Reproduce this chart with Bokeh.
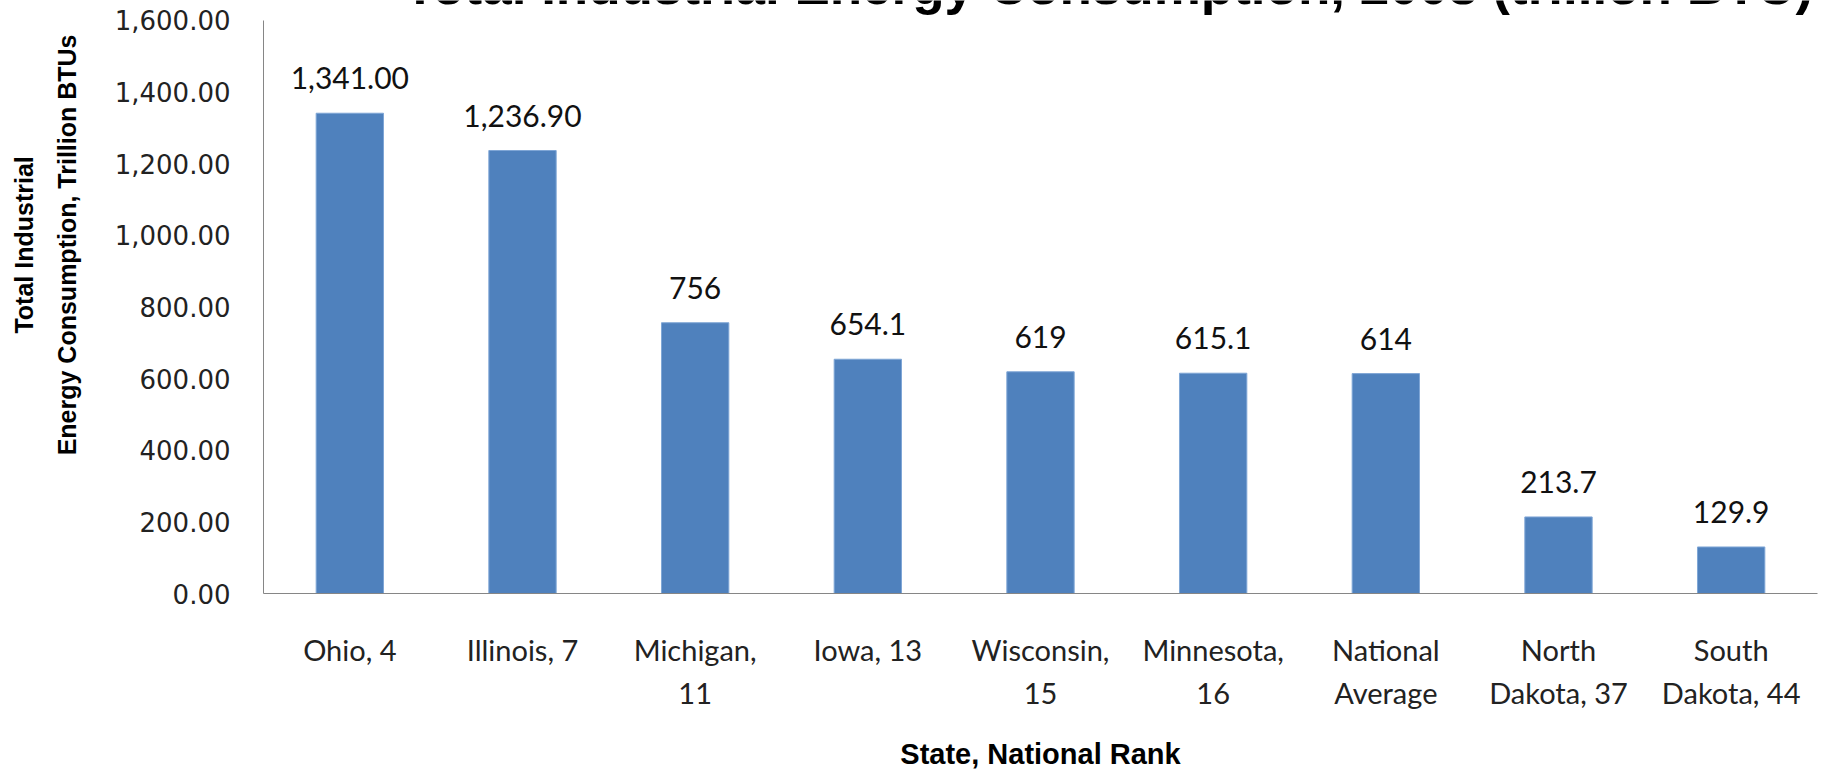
from bokeh.plotting import figure
from bokeh.models import (ColumnDataSource, NumeralTickFormatter, Range1d,
                          LinearAxis, FixedTicker)
from bokeh.core.properties import value
from bokeh.embed import file_html
from bokeh.resources import INLINE

# category label: first line / second line
category_line1 = ["Ohio, 4", "Illinois, 7", "Michigan,", "Iowa, 13", "Wisconsin,",
                  "Minnesota,", "National", "North", "South"]
category_line2 = ["", "", "11", "", "15", "16", "Average", "Dakota, 37", "Dakota, 44"]
consumption = [1341.0, 1236.9, 756.0, 654.1, 619.0, 615.1, 614.0, 213.7, 129.9]
value_labels = ["1,341.00", "1,236.90", "756", "654.1", "619", "615.1", "614", "213.7", "129.9"]
y_ticks = [0, 200, 400, 600, 800, 1000, 1200, 1400, 1600]
y_max = 1600

title_text = "Total Industrial Energy Consumption, 2008 (trillion BTU)"
y_title_1 = "Total Industrial"
y_title_2 = "Energy Consumption, Trillion BTUs"
x_title = "State, National Rank"

n = len(category_line1)
x_pos = [i + 0.5 for i in range(n)]   # category centres on a 0..n axis

W, H = 1823, 772
ML, MR, MT, MB = 263, 6, 0, 178
AXIS_TOP_PX = 20                       # the value axis stops 20px below the top edge
frame_w = W - ML - MR
frame_h = H - MT - MB
px_per_cat = frame_w / n
px_per_unit = (frame_h - AXIS_TOP_PX) / y_max
y_end = frame_h / px_per_unit          # frame reaches the top edge (title lives there)

src = ColumnDataSource(dict(x=x_pos, val=consumption, lab=value_labels))

p = figure(width=W, height=H, x_range=Range1d(0, n), y_range=Range1d(0, y_end),
           output_backend="svg", toolbar_location=None, tools="",
           x_axis_location=None, y_axis_location=None,
           min_border_left=ML, min_border_right=MR, min_border_top=MT, min_border_bottom=MB)
p.outline_line_color = None
p.background_fill_color = "white"
p.border_fill_color = "white"
p.xgrid.grid_line_color = None
p.ygrid.grid_line_color = None

p.vbar(x="x", top="val", width=0.39, source=src, fill_color="#4F81BD",
       line_color="#7FA6D6", line_width=1)

p.text(x="x", y="val", text="lab", source=src, text_align="center",
       text_baseline="middle", y_offset=-35,
       text_font=value("Lato"), text_font_size="30px", text_color="#111111")

# ---- title: cut off at the top edge as in the reference
title_center_px = (401 + 1815) / 2
title_src = ColumnDataSource(dict(x=[(title_center_px - ML) / px_per_cat], y=[y_max],
                                  t=[title_text]))
p.text(x="x", y="y", text="t", source=title_src, text_align="center",
       text_baseline="middle", y_offset=-(AXIS_TOP_PX + 15),
       text_font=value("Liberation Sans"), text_font_style="bold",
       text_font_size="53px", text_color="black")

# y-axis title is centred a little above the middle of the plot area in the reference
pad = "\u00a0" * 15

# ---- y axes (main with ticks + second line of title; outer with first line of title)
ya = LinearAxis(ticker=FixedTicker(ticks=y_ticks),
                formatter=NumeralTickFormatter(format="0,0.00"), bounds=(0, y_max))
ya.major_tick_line_color = None
ya.minor_tick_line_color = None
ya.major_tick_out = 0
ya.major_tick_in = 0
ya.minor_tick_out = 0
ya.axis_line_color = "#868686"
ya.major_label_standoff = 33
ya.major_label_text_font = "DejaVu Sans"
ya.major_label_text_font_size = "26px"
ya.major_label_text_color = "#222222"
ya.axis_label = pad + y_title_2
ya.axis_label_standoff = 31
ya.axis_label_text_font = "Liberation Sans"
ya.axis_label_text_font_style = "bold"
ya.axis_label_text_font_size = "25px"
ya.axis_label_text_color = "black"
p.add_layout(ya, "left")

ya2 = LinearAxis(ticker=FixedTicker(ticks=[]), bounds=(0, y_max))
ya2.axis_line_color = None
ya2.major_tick_line_color = None
ya2.minor_tick_line_color = None
ya2.major_tick_out = 0
ya2.minor_tick_out = 0
ya2.major_label_standoff = 0
ya2.axis_label = pad + y_title_1
ya2.axis_label_standoff = 12
ya2.axis_label_text_font = "Liberation Sans"
ya2.axis_label_text_font_style = "bold"
ya2.axis_label_text_font_size = "25px"
ya2.axis_label_text_color = "black"
p.add_layout(ya2, "left")

# ---- x axes (first line of category labels, then second line + axis title)
xa = LinearAxis(ticker=FixedTicker(ticks=x_pos))
xa.major_label_overrides = {x: t for x, t in zip(x_pos, category_line1)}
xa.major_tick_line_color = None
xa.minor_tick_line_color = None
xa.major_tick_out = 0
xa.major_tick_in = 0
xa.minor_tick_out = 0
xa.axis_line_color = "#868686"
xa.major_label_standoff = 38
xa.major_label_text_font = "Lato"
xa.major_label_text_font_size = "29px"
xa.major_label_text_color = "#222222"
p.add_layout(xa, "below")

xa2 = LinearAxis(ticker=FixedTicker(ticks=x_pos))
xa2.major_label_overrides = {x: t for x, t in zip(x_pos, category_line2)}
xa2.axis_line_color = None
xa2.major_tick_line_color = None
xa2.minor_tick_line_color = None
xa2.major_tick_out = 0
xa2.major_tick_in = 0
xa2.minor_tick_out = 0
xa2.major_label_standoff = 5
xa2.major_label_text_font = "Lato"
xa2.major_label_text_font_size = "29px"
xa2.major_label_text_color = "#222222"
xa2.axis_label = x_title
xa2.axis_label_standoff = 25
xa2.axis_label_text_font = "Liberation Sans"
xa2.axis_label_text_font_style = "bold"
xa2.axis_label_text_font_size = "29px"
xa2.axis_label_text_color = "black"
p.add_layout(xa2, "below")

open("out.html", "w").write(file_html(p, INLINE))
